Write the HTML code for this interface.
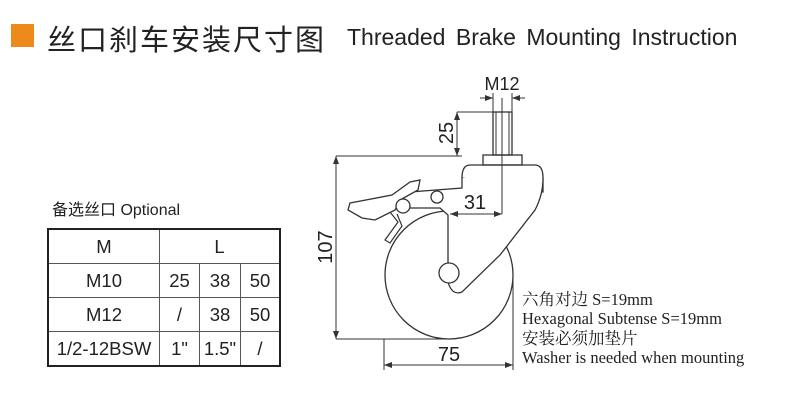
<!DOCTYPE html>
<html><head><meta charset="utf-8"><style>
body{margin:0;width:789px;height:403px;background:#fff;overflow:hidden;position:relative;font-family:"Liberation Sans","Noto Sans CJK SC",sans-serif}
.abs{position:absolute;white-space:nowrap}
table{position:absolute;left:47px;top:228px;border-collapse:collapse;border:2.5px solid #222}
td{border:1px solid #555;text-align:center;font-size:18.5px;color:#222;height:33px;padding:0}
</style></head><body>
<div class="abs" style="left:11px;top:24px;width:23px;height:23px;background:#ee8a1c"></div>
<div class="abs" style="left:47px;top:17px;font-size:29px;color:#222;letter-spacing:2px;font-family:'Noto Sans CJK SC',sans-serif">丝口刹车安装尺寸图</div>
<div class="abs" style="left:347px;top:24px;font-size:23px;color:#222;word-spacing:4px">Threaded Brake Mounting Instruction</div>
<div class="abs" style="left:52px;top:196px;font-size:16px;color:#222">备选丝口 Optional</div>
<table>
<tr><td style="width:110px">M</td><td colspan="3">L</td></tr>
<tr><td>M10</td><td style="width:39px">25</td><td style="width:40px">38</td><td style="width:38px">50</td></tr>
<tr><td>M12</td><td>/</td><td>38</td><td>50</td></tr>
<tr><td>1/2-12BSW</td><td>1"</td><td>1.5"</td><td>/</td></tr>
</table>
<svg class="abs" style="left:0;top:0" width="789" height="403" viewBox="0 0 789 403">
<defs><marker id="a" markerWidth="8" markerHeight="6" refX="8" refY="3" orient="auto-start-reverse"><path d="M0,0L8,3L0,6z" fill="#333"/></marker></defs>
<g stroke="#333" stroke-width="1" fill="none">
<line x1="480" y1="98" x2="493" y2="98" marker-end="url(#a)"/><line x1="525" y1="98" x2="512" y2="98" marker-end="url(#a)"/>
<line x1="493" y1="93" x2="493" y2="112"/><line x1="512" y1="93" x2="512" y2="112"/>
<line x1="457" y1="112" x2="493" y2="112"/>
<line x1="457" y1="112" x2="457" y2="156" marker-start="url(#a)" marker-end="url(#a)"/>
<line x1="336" y1="156" x2="462" y2="156"/><line x1="336" y1="339" x2="449" y2="339"/>
<line x1="336" y1="156" x2="336" y2="339" marker-start="url(#a)" marker-end="url(#a)"/>
<line x1="384" y1="339" x2="384" y2="370"/><line x1="513" y1="275" x2="513" y2="370"/>
<line x1="384" y1="365" x2="513" y2="365" marker-start="url(#a)" marker-end="url(#a)"/>
<rect x="493" y="112" width="19" height="43" stroke-width="1.3"/>
<line x1="496" y1="112" x2="496" y2="155"/><line x1="509" y1="112" x2="509" y2="155"/>
<rect x="483" y="155" width="39" height="10" stroke-width="1.3"/>
<path d="M462,178 Q462,165 470,165 L535,165 Q543,165 543,178 L543,192 Z" stroke-width="1.3"/>
<circle cx="449" cy="275" r="64" stroke-width="1.3"/>
<path d="M462,178 L462,188 L410,192 L392,200 L392,208 L440,208 L448,215 L448,282 Q452,296 462,292 L500,255 L535,210 Q543,195 543,178" fill="#fff" stroke-width="1.3"/>
<circle cx="449" cy="273" r="10" fill="#fff" stroke-width="1.3"/>
<circle cx="437" cy="197" r="6" fill="#fff" stroke-width="1.3"/>
<path d="M350,203 L392,195 L410,182 L420,180 L418,190 L400,200 L395,210 L375,220 L362,218 L348,210 Z" fill="#fff" stroke-width="1.3"/>
<circle cx="403" cy="206" r="7" fill="#fff" stroke-width="1.3"/>
<path d="M390,212 L398,222 L385,240 L390,243 L402,226 L397,214" fill="#fff" stroke-width="1.2"/>
<line x1="502" y1="98" x2="502" y2="214"/>
<line x1="450" y1="214" x2="502" y2="214" marker-start="url(#a)" marker-end="url(#a)"/>
</g>
<g font-family="Liberation Sans,sans-serif" fill="#222" font-size="20">
<text x="502" y="90" text-anchor="middle" font-size="18">M12</text>
<text x="475" y="209" text-anchor="middle">31</text>
<text x="449" y="361" text-anchor="middle">75</text>
<text transform="translate(453,133) rotate(-90)" text-anchor="middle">25</text>
<text transform="translate(332,247) rotate(-90)" text-anchor="middle">107</text>
</g>
<g font-family="Liberation Serif,Noto Serif CJK SC,serif" fill="#222" font-size="16.5">
<text x="522" y="305">六角对边 S=19mm</text>
<text x="522" y="324">Hexagonal Subtense S=19mm</text>
<text x="522" y="344">安装必须加垫片</text>
<text x="522" y="363">Washer is needed when mounting</text>
</g>
</svg>
</body></html>
